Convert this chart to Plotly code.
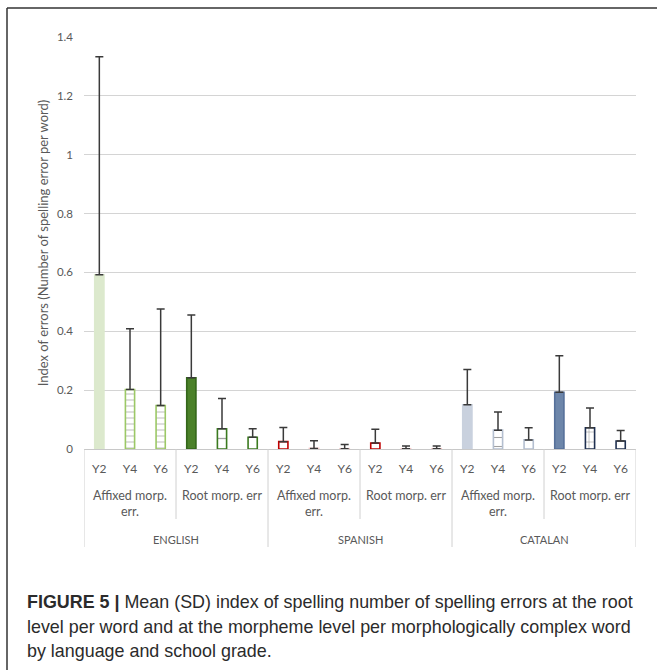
import plotly.graph_objects as go

# ---- data -------------------------------------------------------------
languages = ["ENGLISH", "SPANISH", "CATALAN"]
error_types = ["Affixed morp.<br>err.", "Root morp. err"]
grades = ["Y2", "Y4", "Y6"]

# order within each language: Affixed Y2, Y4, Y6, Root Y2, Y4, Y6
english_mean = [0.592, 0.202, 0.148, 0.242, 0.069, 0.040]
english_sd = [0.741, 0.207, 0.328, 0.213, 0.103, 0.029]
spanish_mean = [0.025, 0.002, 0.001, 0.020, 0.001, 0.001]
spanish_sd = [0.048, 0.026, 0.014, 0.047, 0.009, 0.009]
catalan_mean = [0.150, 0.064, 0.031, 0.193, 0.072, 0.027]
catalan_sd = [0.120, 0.062, 0.041, 0.124, 0.067, 0.036]

y_ticks = [0, 0.2, 0.4, 0.6, 0.8, 1, 1.2, 1.4]

# ---- styling per language (fill, outline, pattern) --------------------
styles = {
    "ENGLISH": dict(
        fill=["#dce9cd", "#ffffff", "#ffffff", "#4b8129", "#ffffff", "#ffffff"],
        line=["#dce9cd", "#9cc866", "#9cc866", "#33661a", "#3b7a1f", "#3b7a1f"],
        shape=["", "-", "-", "", "-", ""],
        fg=["#dce9cd", "#dcdcdc", "#dcdcdc", "#4b8129", "#3b7a1f", "#3b7a1f"],
        size=[6, 6, 6, 6, 11, 6],
    ),
    "SPANISH": dict(
        fill=["#ffffff"] * 6,
        line=["#c00000", "#f2c4c4", "#f2c4c4", "#c00000", "#f2c4c4", "#f2c4c4"],
        shape=[""] * 6,
        fg=["#c00000"] * 6,
        size=[6] * 6,
    ),
    "CATALAN": dict(
        fill=["#c9d1de", "#ffffff", "#ffffff", "#6d86aa", "#ffffff", "#ffffff"],
        line=["#c9d1de", "#b4bfd0", "#b4bfd0", "#56709a", "#1f3050", "#1f3050"],
        shape=["", "-", "", "", "+", ""],
        fg=["#c9d1de", "#d4dae3", "#d4dae3", "#6d86aa", "#1f3050", "#1f3050"],
        size=[6, 9, 6, 6, 10, 6],
    ),
}

means = [english_mean, spanish_mean, catalan_mean]
sds = [english_sd, spanish_sd, catalan_sd]

n_per_lang = len(error_types) * len(grades)

fig = go.Figure()
for li, lang in enumerate(languages):
    xs = [li * n_per_lang + k for k in range(n_per_lang)]
    st = styles[lang]
    fig.add_trace(go.Bar(
        x=xs,
        y=means[li],
        width=0.3,
        marker=dict(
            color=st["fill"],
            line=dict(color=st["line"], width=1.6),
            pattern=dict(shape=st["shape"], fgcolor=st["fg"], size=st["size"],
                         solidity=0.12, fillmode="overlay"),
        ),
        error_y=dict(type="data", array=sds[li], arrayminus=[0] * n_per_lang,
                     symmetric=False, color="#3a3a3a", thickness=1.5, width=4),
        showlegend=False,
        name=lang,
    ))

# ---- geometry of the plot area (px) -----------------------------------
W, H = 657, 670
L, R, T, B = 84, 21, 37, 221
plot_h = H - T - B
plot_w = W - L - R


def py(pixel_y):
    return (H - B - pixel_y) / plot_h


def px(pixel_x):
    return (pixel_x - L) / plot_w


text_col = "#595959"
chart_font = "Lato, Carlito, Calibri, sans-serif"
shapes = []
annotations = []

n_total = n_per_lang * len(languages)
# vertical separators of the category table
for li in range(len(languages) + 1):
    xb = li * n_per_lang - 0.5
    shapes.append(dict(type="line", xref="x", yref="paper", x0=xb, x1=xb,
                       y0=0, y1=py(547), line=dict(color="#d0d0d0", width=1)))
for li in range(len(languages)):
    xb = li * n_per_lang + len(grades) - 0.5
    shapes.append(dict(type="line", xref="x", yref="paper", x0=xb, x1=xb,
                       y0=0, y1=py(519), line=dict(color="#d0d0d0", width=1)))

# error type and language labels
for li, lang in enumerate(languages):
    for ei, et in enumerate(error_types):
        xc = li * n_per_lang + ei * len(grades) + (len(grades) - 1) / 2
        yc = py(503) if "<br>" in et else py(495)
        annotations.append(dict(x=xc, y=yc, xref="x", yref="paper", text=et,
                                showarrow=False, yanchor="middle",
                                font=dict(family=chart_font, size=12.5, color=text_col)))
    xc = li * n_per_lang + (n_per_lang - 1) / 2
    annotations.append(dict(x=xc, y=py(539), xref="x", yref="paper", text=lang,
                            showarrow=False, yanchor="middle",
                            font=dict(family=chart_font, size=11, color=text_col)))

# figure frame
shapes.append(dict(type="line", xref="paper", yref="paper", x0=px(7), x1=px(7),
                   y0=py(8), y1=py(H + 2), line=dict(color="#333333", width=1.5)))
shapes.append(dict(type="line", xref="paper", yref="paper", x0=px(7), x1=px(W + 2),
                   y0=py(8), y1=py(8), line=dict(color="#333333", width=1.5)))

# caption
cap_font = dict(family="Liberation Sans, Arial, sans-serif", size=17.9, color="#2b2b2b")
caption_lines = [
    "<b>FIGURE 5 |</b> Mean (SD) index of spelling number of spelling errors at the root",
    "level per word and at the morpheme level per morphologically complex word",
    "by language and school grade.",
]
for i, line in enumerate(caption_lines):
    annotations.append(dict(x=px(25), y=py(602 + 24.5 * i), xref="paper", yref="paper",
                            text=line, showarrow=False, xanchor="left", yanchor="middle",
                            font=cap_font))

fig.update_layout(
    width=W, height=H,
    margin=dict(l=L, r=R, t=T, b=B, pad=0),
    paper_bgcolor="white", plot_bgcolor="white",
    barmode="overlay",
    shapes=shapes,
    annotations=annotations,
    xaxis=dict(
        range=[-0.5, n_total - 0.5],
        tickmode="array",
        tickvals=list(range(n_total)),
        ticktext=grades * (len(error_types) * len(languages)),
        tickfont=dict(family=chart_font, size=12, color=text_col),
        ticklabelstandoff=9,
        showgrid=False, zeroline=False,
        showline=True, linecolor="#c8c8c8", linewidth=1,
        fixedrange=True,
    ),
    yaxis=dict(
        range=[0, 1.4],
        tickmode="array",
        tickvals=y_ticks,
        ticktext=[f"{v:g}" for v in y_ticks],
        tickfont=dict(family=chart_font, size=11.5, color=text_col),
        ticklabelstandoff=10,
        showgrid=True, gridcolor="#d4d4d4", gridwidth=1,
        zeroline=False,
        title=dict(text="Index of errors (Number of spelling error per word)",
                   font=dict(family=chart_font, size=13, color=text_col),
                   standoff=5),
    ),
)

fig.write_html("out.html")
